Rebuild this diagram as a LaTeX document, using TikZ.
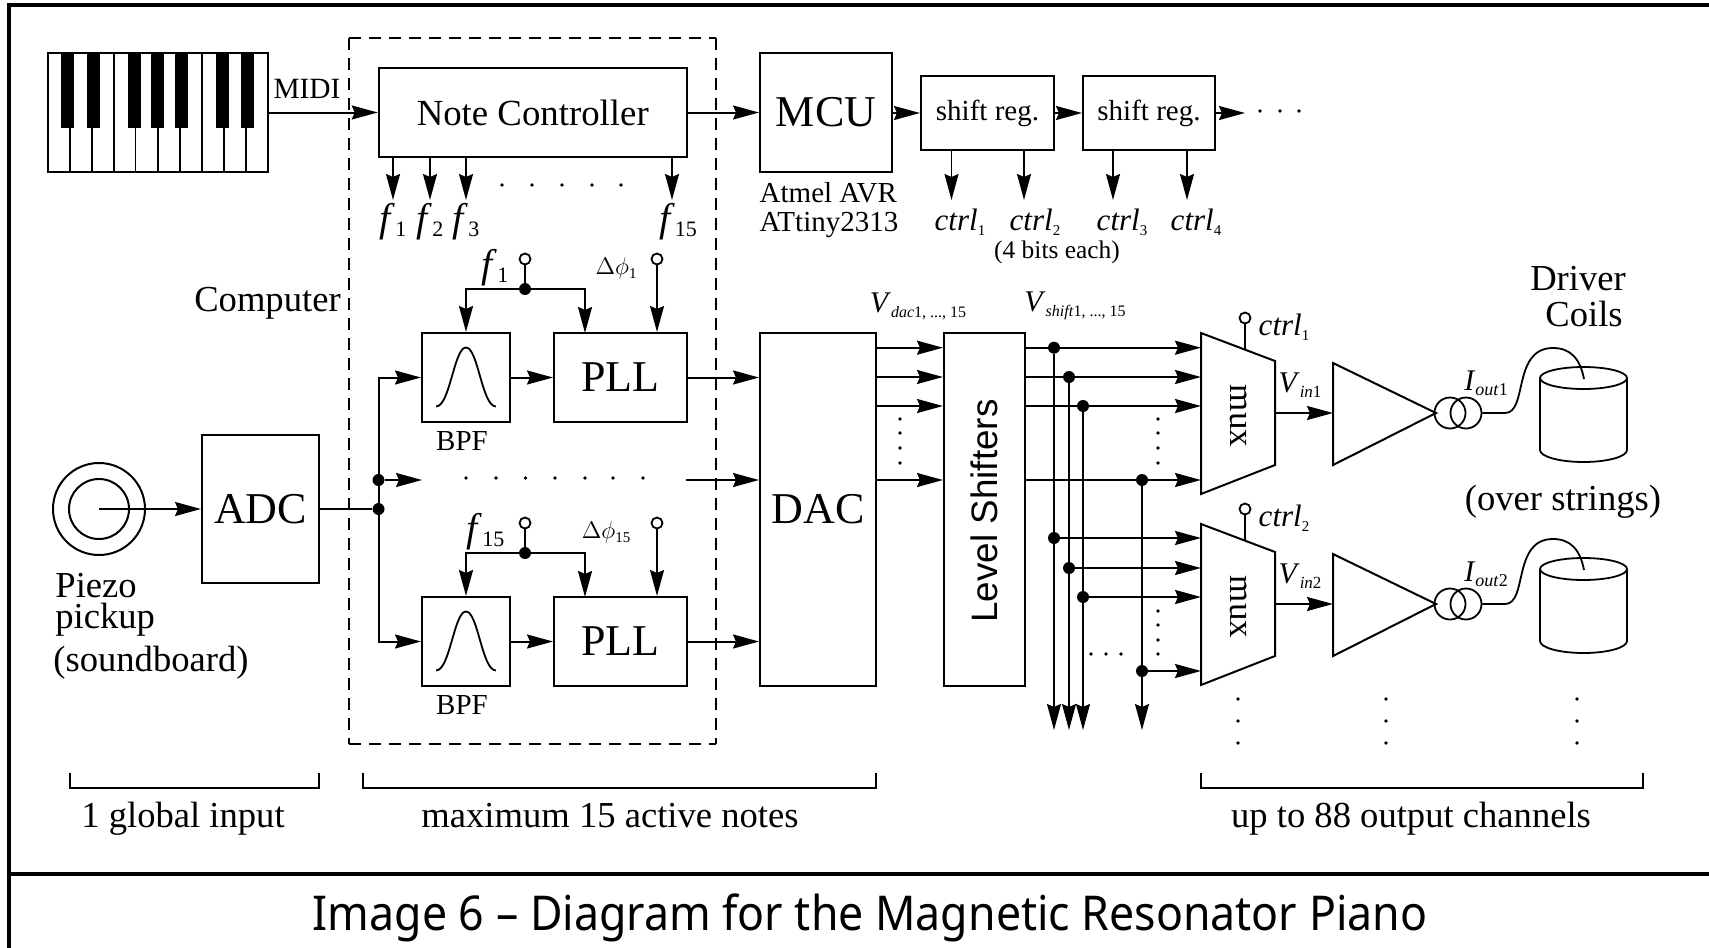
\documentclass[tikz,border=0pt]{standalone}
\usepackage{fontspec}
\setmainfont{Liberation Serif}
\setsansfont{Liberation Sans}
\newfontfamily\capfont[FakeStretch=0.93]{Noto Sans}
\usetikzlibrary{arrows.meta}

\newcommand{\lowsub}[3]{\textit{#1}\raisebox{-2.5pt}{\fontsize{#2}{#2}\selectfont #3}}

\tikzset{
  >={Stealth[length=13pt,width=7pt,inset=1.5pt]},
  sig/.style={line width=1pt},
  thin sig/.style={line width=0.8pt},
  blockbox/.style={draw,line width=1pt,rectangle,inner sep=0pt,font=\fontsize{22}{24}\selectfont},
  midtxt/.style={inner sep=0pt,font=\fontsize{18.3}{20}\selectfont},
  smalltxt/.style={inner sep=0pt,font=\fontsize{14.5}{14.5}\selectfont},
  subtxt/.style={inner sep=0pt,font=\fontsize{15}{16}\selectfont},
  bigf/.style={inner sep=0pt,font=\fontsize{20}{22}\selectfont},
  dotnode/.style={circle,fill=black,inner sep=0pt,minimum size=6pt},
  knob/.style={circle,draw,line width=0.9pt,fill=white,inner sep=0pt,minimum size=5.5pt},
  tinydot/.style={circle,fill=black,inner sep=0pt,minimum size=1.8pt},
  dashline/.style={dashed,dash pattern=on 6pt off 4pt,line width=0.8pt},
}

\begin{document}
\begin{tikzpicture}[x=0.5pt,y=-0.5pt]
  \useasboundingbox (0,0) rectangle (1709,948);

  % Page frame
  \coordinate (framea) at (9,948);
  \coordinate (frameb) at (9,5);
  \coordinate (framec) at (1709,5);
  \coordinate (framed) at (9,874);
  \coordinate (framee) at (1709,874);
  \draw[line width=1.6pt] (framea)--(frameb)--(framec);
  \draw[line width=1.6pt] (framed)--(framee);
  \node[inner sep=0pt,font=\capfont\fontsize{24}{26}\selectfont] (caption) at (870,918)
    {Image 6 – Diagram for the Magnetic Resonator Piano};

  % Keyboard
  \node[draw,line width=1.1pt,rectangle,inner sep=0pt,minimum width=110pt,minimum height=59.5pt] (piano) at (158,112.5) {};
  \foreach \xa in {70,92,135.5,158,180,224,246} {
    \draw[line width=0.8pt] (\xa,128)--(\xa,172);
  }
  \foreach \xa in {114,202} {
    \draw[line width=0.8pt] (\xa,53)--(\xa,172);
  }
  \foreach \xa in {67.5,93,134,157.5,181.5,222,247} {
    \fill (\xa-6.5,53) rectangle (\xa+6.5,128);
  }

  % Computer box
  \draw[dashline,line width=1.3pt] (349,38)--(716,38);
  \draw[dashline] (349,38)--(349,744);
  \draw[dashline] (716,38)--(716,744);
  \draw[dashline] (349,744)--(716,744);

  % Top row
  \node[blockbox,minimum width=154pt,minimum height=44.5pt,font=\fontsize{18.4}{20}\selectfont] (notectrl) at (532.75,112.5) {\raisebox{-1.6pt}{Note Controller}};
  \node[blockbox,minimum width=66pt,minimum height=59.5pt] (mcu) at (826,112.5) {MCU};
  \node[blockbox,minimum width=66.5pt,minimum height=37pt,font=\fontsize{14.5}{16}\selectfont] (shifta) at (987.5,113) {shift reg.};
  \node[blockbox,minimum width=66pt,minimum height=37pt,font=\fontsize{14.5}{16}\selectfont] (shiftb) at (1149,113) {shift reg.};
  \node[midtxt,font=\fontsize{14.7}{16}\selectfont] (midi) at (307,89) {MIDI};
  \node[smalltxt,align=left] (atmel) at (829,210) {Atmel AVR\\ATtiny2313};
  \coordinate (shiftend) at (1245,113);
  \draw[sig,->] (piano.east |- notectrl)--(notectrl);
  \draw[sig,->] (notectrl.east)--(mcu.west);
  \draw[sig,->] (mcu.east |- shifta)--(shifta.west);
  \draw[sig,->] (shifta.east)--(shiftb.west);
  \draw[sig,->] (shiftb.east)--(shiftend);
  \foreach \xa in {1260,1280,1299} {
    \node[tinydot] at (\xa,111) {};
  }

  % Frequency outputs
  \foreach \nm/\xa/\xb/\tx in {fa/393/393/1,fb/430/430/2,fc/466/466/3,fd/672/678/15} {
    \coordinate (\nm tip) at (\xa,200);
    \node[bigf] (\nm) at (\xb,222) {\lowsub{f}{11}{\tx}};
    \draw[thin sig,->] (\nm tip |- notectrl.south)--(\nm tip);
  }
  \foreach \xa in {502,532,562,592,621} {
    \node[tinydot] at (\xa,185) {};
  }

  % Shift register outputs
  \foreach \nm/\xa/\xb/\tx/\src in {ca/951.5/960/1/shifta,cb/1024/1035/2/shifta,cc/1113/1122/3/shiftb,cd/1187/1196/4/shiftb} {
    \coordinate (\nm tip) at (\xa,200);
    \node[subtxt,font=\fontsize{15.5}{17}\selectfont] (\nm) at (\xb,222) {\lowsub{ctrl}{7.5}{\tx}};
    \draw[thin sig,->] (\nm tip |- \src.south)--(\nm tip);
  }
  \node[smalltxt,font=\fontsize{12.7}{14}\selectfont] (bits) at (1057,252) {(4 bits each)};
  \node[midtxt] (comp) at (267.5,303) {Computer};

  % Piezo and ADC
  \node[draw,circle,line width=1pt,inner sep=0pt,minimum size=46pt] (piezo) at (99,509) {};
  \node[draw,circle,line width=1pt,inner sep=0pt,minimum size=30pt] (piezoin) at (99,509) {};
  \node[blockbox,minimum width=58.5pt,minimum height=74pt] (adc) at (260.5,509) {ADC};
  \node[midtxt,anchor=base west] (pick) at (55,597) {Piezo};
  \node[midtxt,anchor=base west] (up) at (55,628) {pickup};
  \node[midtxt] (board) at (151,663) {(soundboard)};
  \coordinate (piezomid) at (99,509);
  \draw[thin sig,->] (piezomid)--(adc.west);

  % Filter branches
  \foreach \nm/\yy/\ya/\yb/\yc/\tx/\fx/\px in {a/377.5/259/289/268/1/495/616,b/641.5/523/553/532/15/485.5/606} {
    \node[blockbox,minimum width=44pt,minimum height=44.5pt] (bpf\nm) at (466,\yy) {};
    \node[blockbox,minimum width=66.5pt,minimum height=44.5pt] (pll\nm) at (620.5,\yy) {PLL};
    \node[smalltxt] (bpflab\nm) at (462,\yy+64) {BPF};
    \draw[line width=0.9pt] (436,\yy+29) .. controls (450,\yy+29) and (454,\yy-30) .. (466,\yy-30) .. controls (478,\yy-30) and (482,\yy+29) .. (496,\yy+29);
    \draw[sig,->] (bpf\nm)--(pll\nm);
    \node[knob] (fk\nm) at (525,\ya) {};
    \node[knob] (pk\nm) at (657,\ya) {};
    \node[dotnode] (fj\nm) at (525,\yb) {};
    \node[bigf] (fl\nm) at (\fx,\yc) {\lowsub{f}{11}{\tx}};
    \node[smalltxt,font=\fontsize{13}{15}\selectfont] (pl\nm) at (\px,\yc) {$\Delta\phi$\raisebox{-2pt}{\fontsize{7.5}{8}\selectfont\tx}};
    \draw[thin sig] (fk\nm)--(fj\nm);
    \draw[sig,->] (fj\nm)-|(bpf\nm.north);
    \draw[sig,->] (fj\nm)-|(585,\yy-44.5);
    \draw[thin sig,->] (pk\nm)--(pk\nm |- pll\nm.north);
  }

  % Input bus
  \node[dotnode] (busa) at (378.5,480) {};
  \node[dotnode] (busb) at (378.5,509) {};
  \coordinate (busatip) at (422,480);
  \coordinate (busaout) at (686,480);
  \draw[thin sig] (adc.east)--(busb);
  \draw[sig,->] (busb)|-(bpfa.west);
  \draw[sig,->] (busb)|-(bpfb.west);
  \draw[sig,->] (busa)--(busatip);
  \foreach \xa in {466,496,525.5,555,585,613,643} {
    \node[tinydot] at (\xa,478) {};
  }

  % DAC and level shifters
  \node[blockbox,minimum width=58pt,minimum height=176.5pt] (dac) at (818,509.5) {DAC};
  \node[blockbox,minimum width=40.25pt,minimum height=176.5pt] (lvl) at (984.25,509.5) {};
  \node[inner sep=0pt,rotate=90,font=\sffamily\fontsize{18.4}{20}\selectfont] (lvltxt) at (984,511) {Level Shifters};
  \draw[sig,->] (plla.east)--(dac.west |- plla);
  \draw[sig,->] (pllb.east)--(dac.west |- pllb);
  \draw[sig,->] (busaout)--(dac.west |- busaout);
  \node[subtxt] (vdac) at (918,306) {\lowsub{V}{8}{\textit{dac}1, ..., 15}};
  \node[subtxt] (vshift) at (1075,306) {\lowsub{V}{8}{\textit{shift}1, ..., 15}};

  % Mux shapes
  \foreach \nm/\dy in {a/0,b/191} {
    \coordinate (mux\nm nw) at (1201,333+\dy);
    \coordinate (mux\nm ne) at (1275,361+\dy);
    \coordinate (mux\nm se) at (1275,465+\dy);
    \coordinate (mux\nm sw) at (1201,494+\dy);
    \draw[line width=1pt] (mux\nm nw)--(mux\nm ne)--(mux\nm se)--(mux\nm sw)--cycle;
    \node[midtxt,rotate=-90,font=\fontsize{17.5}{18}\selectfont] (muxtxt\nm) at (1239,416+\dy) {mux};
    \coordinate (muxout\nm) at (1275,413+\dy);
    \coordinate (ampin\nm) at (1333,413+\dy);
    \coordinate (ampa\nm) at (1333,363+\dy);
    \coordinate (ampb\nm) at (1333,465+\dy);
    \coordinate (ampc\nm) at (1436,413+\dy);
    \draw[line width=1pt] (ampa\nm)--(ampc\nm)--(ampb\nm)--cycle;
    \draw[sig,->] (muxout\nm)--(ampin\nm);
    \node[knob] (muxk\nm) at (1245,318+\dy) {};
    \coordinate (muxke\nm) at (1245,349+\dy);
    \draw[thin sig] (muxk\nm)--(muxke\nm);
    \node[draw,circle,line width=0.9pt,inner sep=0pt,minimum size=15.5pt] (trfa\nm) at (1450,413+\dy) {};
    \node[draw,circle,line width=0.9pt,inner sep=0pt,minimum size=15.5pt] (trfb\nm) at (1466,413+\dy) {};

    % Coil
    \draw[line width=0.9pt] (1540,378+\dy) arc[start angle=180,end angle=-180,x radius=43.5,y radius=-11];
    \draw[line width=0.9pt] (1540,378+\dy)--(1540,450+\dy) arc[start angle=180,end angle=360,x radius=43.5,y radius=-12]--(1627,378+\dy);
    \coordinate (coilin\nm) at (1584,379+\dy);
    \draw[line width=0.9pt] (trfb\nm.east)--(1505,413+\dy) .. controls (1528,413+\dy) and (1512,348+\dy) .. (1553,348+\dy) .. controls (1570,348+\dy) and (1580,358+\dy) .. (coilin\nm);
  }
  \node[subtxt,font=\fontsize{15.5}{17}\selectfont] (ctrlup) at (1284,327) {\lowsub{ctrl}{7.5}{1}};
  \node[subtxt,font=\fontsize{15.5}{17}\selectfont] (ctrldn) at (1284,518) {\lowsub{ctrl}{7.5}{2}};
  \node[subtxt] (vina) at (1300,385) {\lowsub{V}{8.5}{\textit{in}1}};
  \node[subtxt] (vinb) at (1300,576) {\lowsub{V}{8.5}{\textit{in}2}};
  \node[subtxt] (iouta) at (1486,383) {\lowsub{I}{9}{\textit{out}1}};
  \node[subtxt] (ioutb) at (1486,574) {\lowsub{I}{9}{\textit{out}2}};
  \node[midtxt] (driver) at (1578,279) {Driver};
  \node[midtxt] (coils) at (1584,314) {Coils};
  \node[midtxt] (strings) at (1563,502) {(over strings)};

  % DAC to shifter lines
  \foreach \nm/\yy in {a/347.7,b/377,c/406,d/480} {
    \coordinate (dacout\nm) at (876,\yy);
    \draw[sig,->] (dacout\nm)--(lvl.west |- dacout\nm);
  }

  % Shifter to mux lines
  \foreach \nm/\xa/\ya/\yb in {a/1054/347.7/538,b/1069/377/568,c/1083/406/597,d/1142/480/671} {
    \node[dotnode] (ju\nm) at (\xa,\ya) {};
    \node[dotnode] (jd\nm) at (\xa,\yb) {};
    \coordinate (tail\nm) at (\xa,730);
    \coordinate (inu\nm) at (1201,\ya);
    \coordinate (ind\nm) at (1201,\yb);
    \draw[thin sig,->] (ju\nm)--(tail\nm);
    \draw[sig,->] (lvl.east |- ju\nm)--(inu\nm);
    \draw[sig,->] (jd\nm)--(ind\nm);
  }

  % Dots
  \foreach \yy in {419,433,448,463} {
    \node[tinydot] at (900,\yy) {};
    \node[tinydot] at (1158,\yy) {};
  }
  \foreach \yy in {611,625,640,654} {
    \node[tinydot] at (1158,\yy) {};
  }
  \foreach \xa in {1091,1106,1121} {
    \node[tinydot] at (\xa,654) {};
  }
  \foreach \xa in {1238,1386,1577} {
    \foreach \yy in {699,721,743} {
      \node[tinydot] at (\xa,\yy) {};
    }
  }

  % Brackets
  \draw[line width=0.9pt] (70,773)--(70,788)--(319,788)--(319,773);
  \draw[line width=0.9pt] (363,773)--(363,788)--(876,788)--(876,773);
  \draw[line width=0.9pt] (1201,773)--(1201,788)--(1643,788)--(1643,773);
  \node[midtxt,anchor=base] (globallab) at (183,827) {1 global input};
  \node[midtxt,anchor=base] (noteslab) at (610,827) {maximum 15 active notes};
  \node[midtxt,anchor=base] (outlab) at (1411,827) {up to 88 output channels};
\end{tikzpicture}
\end{document}
